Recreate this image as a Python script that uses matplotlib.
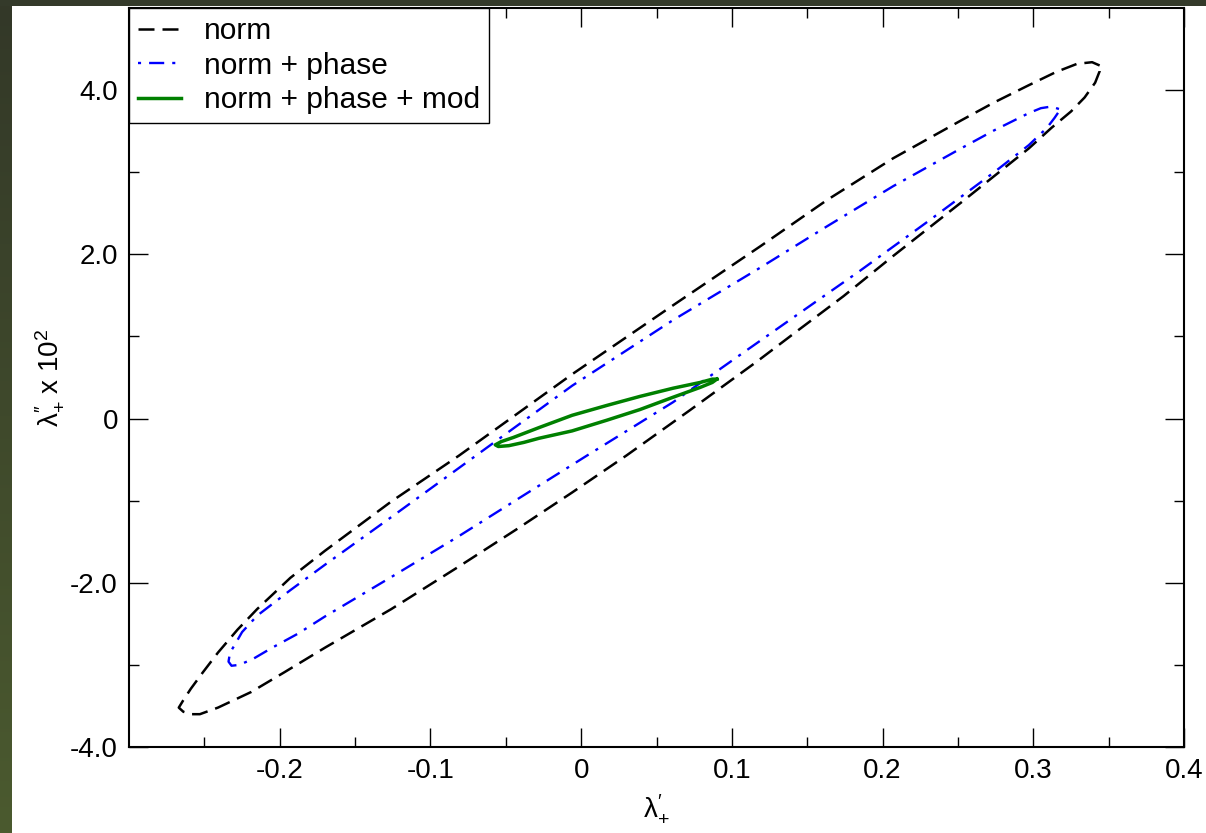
import numpy as np
import matplotlib
matplotlib.use('Agg')
from matplotlib import pyplot as plt

plt.rcParams['font.family'] = ['Liberation Sans', 'DejaVu Sans']
plt.rcParams['axes.unicode_minus'] = False
plt.rcParams['mathtext.fontset'] = 'custom'
plt.rcParams['mathtext.rm'] = 'Liberation Sans'
plt.rcParams['mathtext.it'] = 'Liberation Sans'

# Confidence contours (lambda'_+ , lambda''_+ x 10^2), closed curves
norm_x = [0.344, 0.339, 0.329, 0.315, 0.297, 0.274, 0.252, 0.207, 0.163, 0.119,
          0.061, -0.006, -0.081, -0.126, -0.170, -0.193, -0.215, -0.228, -0.241,
          -0.251, -0.259, -0.264, -0.267,
          -0.264, -0.259, -0.253, -0.241, -0.219, -0.197, -0.170, -0.126, -0.081,
          -0.043, -0.006, 0.030, 0.072, 0.117, 0.145, 0.174, 0.207, 0.252, 0.297,
          0.312, 0.325, 0.334, 0.341, 0.344]
norm_y = [4.30, 4.34, 4.32, 4.22, 4.06, 3.85, 3.63, 3.17, 2.66, 2.10,
          1.38, 0.54, -0.45, -1.01, -1.61, -1.94, -2.32, -2.57, -2.85,
          -3.09, -3.29, -3.43, -3.52,
          -3.57, -3.60, -3.60, -3.52, -3.33, -3.09, -2.79, -2.32, -1.80,
          -1.35, -0.90, -0.45, 0.10, 0.70, 1.09, 1.49, 1.98, 2.63, 3.29,
          3.54, 3.74, 3.91, 4.09, 4.23]

phase_x = [0.317, 0.312, 0.305, 0.297, 0.274, 0.252, 0.207, 0.163, 0.119, 0.061,
           -0.006, -0.081, -0.126, -0.170, -0.193, -0.215, -0.225, -0.230, -0.233,
           -0.234,
           -0.232, -0.227, -0.218, -0.205, -0.188, -0.170, -0.126, -0.081, -0.043,
           0.003, 0.061, 0.105, 0.143, 0.185, 0.230, 0.274, 0.297, 0.309, 0.314,
           0.317]
phase_y = [3.77, 3.80, 3.78, 3.72, 3.51, 3.29, 2.83, 2.34, 1.84, 1.20,
           0.40, -0.60, -1.20, -1.78, -2.09, -2.40, -2.60, -2.76, -2.85,
           -2.96,
           -3.01, -3.00, -2.93, -2.79, -2.62, -2.41, -1.93, -1.43, -0.99,
           -0.46, 0.20, 0.77, 1.26, 1.80, 2.40, 3.00, 3.33, 3.54, 3.66,
           3.74]

mod_x = [0.090, 0.087, 0.079, 0.061, 0.039, 0.017, -0.006, -0.028, -0.045, -0.053,
         -0.057, -0.055, -0.048, -0.038, -0.028, -0.006, 0.017, 0.039, 0.061,
         0.079, 0.087]
mod_y = [0.48, 0.48, 0.44, 0.37, 0.27, 0.16, 0.04, -0.11, -0.23, -0.28,
         -0.32, -0.34, -0.33, -0.29, -0.24, -0.15, -0.02, 0.11, 0.26,
         0.38, 0.44]

labels = ['norm', 'norm + phase', 'norm + phase + mod']

x_ticks = [-0.2, -0.1, 0.0, 0.1, 0.2, 0.3, 0.4]
x_ticklabels = ['-0.2', '-0.1', '0', '0.1', '0.2', '0.3', '0.4']
y_ticks = [-4.0, -2.0, 0.0, 2.0, 4.0]
y_ticklabels = ['-4.0', '-2.0', '0', '2.0', '4.0']


def closed(xs, ys):
    return np.append(xs, xs[0]), np.append(ys, ys[0])


fig = plt.figure(figsize=(12.06, 8.33), dpi=100, facecolor='white')

# dark frame strips along the left and top edges
strip = fig.add_axes([0, 0, 0.00995, 1])
grad = np.linspace(0, 1, 256).reshape(-1, 1)
cmap = matplotlib.colors.LinearSegmentedColormap.from_list('olive', ['#333828', '#4b5a2f'])
strip.imshow(grad, aspect='auto', cmap=cmap, extent=[0, 1, 0, 1], origin='upper')
strip.axis('off')
top = fig.add_axes([0, 1 - 0.0072, 1, 0.0072])
top.set_facecolor('#343a2a')
top.set_xticks([])
top.set_yticks([])
for s in top.spines.values():
    s.set_visible(False)

ax = fig.add_axes([0.107, 0.1032, 0.8748, 0.8872])

line_kw = dict(solid_joinstyle='round', dash_joinstyle='round')
x, y = closed(norm_x, norm_y)
ax.plot(x, y, color='black', lw=1.8, linestyle=(0, (6.4, 3.2)), label=labels[0], **line_kw)
x, y = closed(phase_x, phase_y)
ax.plot(x, y, color='#0000ff', lw=1.7, linestyle=(9.8, (6.4, 3.4, 1.3, 3.4)),
        label=labels[1], **line_kw)
x, y = closed(mod_x, mod_y)
ax.plot(x, y, color='#008000', lw=2.5, label=labels[2], **line_kw)

ax.set_xlim(-0.3, 0.4)
ax.set_ylim(-4.0, 5.0)
ax.set_xticks(x_ticks, x_ticklabels)
ax.set_yticks(y_ticks, y_ticklabels)
ax.set_xticks(np.arange(-0.25, 0.4, 0.1), minor=True)
ax.set_yticks([-3.0, -1.0, 1.0, 3.0], minor=True)
ax.tick_params(which='both', direction='in', top=True, right=True, labelsize=20,
               width=1.0, pad=8)
ax.tick_params(which='major', length=14)
ax.tick_params(which='minor', length=7)
for s in ax.spines.values():
    s.set_linewidth(1.5)

ax.set_xlabel(r'$\mathrm{\lambda}^{\prime}_{+}$', fontsize=20, labelpad=6)
ax.set_ylabel(r'$\mathrm{\lambda}^{\prime\prime}_{+}$ x 10$^{2}$', fontsize=20, labelpad=4)

leg = ax.legend(loc='upper left', bbox_to_anchor=(0, 1), borderaxespad=0,
                fontsize=21.5, frameon=True, fancybox=False, framealpha=1,
                edgecolor='black', handlelength=1.45, handletextpad=0.75,
                borderpad=0.3, labelspacing=0.22)
leg.get_frame().set_linewidth(1.0)

fig.savefig('out.png', dpi=100)
